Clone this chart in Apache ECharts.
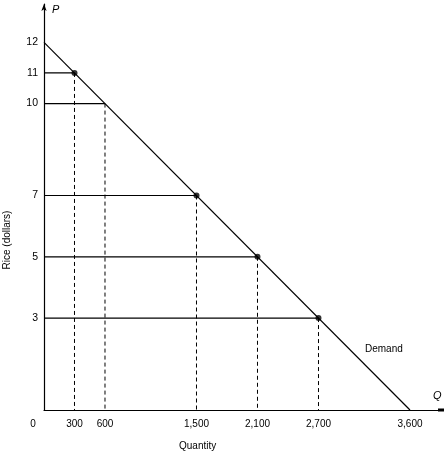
<!DOCTYPE html>
<html>
<head>
<meta charset="utf-8">
<script src="https://cdn.jsdelivr.net/npm/echarts@6/dist/echarts.min.js"></script>
<style>
  html, body { margin: 0; padding: 0; background: #fff; }
  #chart { width: 446px; height: 455px; }
</style>
</head>
<body>
<div id="chart"></div>
<script>
// demand curve end points
var demandQ = [0, 3600];
var demandP = [12, 0];

// price levels with their quantities on the curve
var prices = [11, 10, 7, 5, 3];
var quantities = [300, 600, 1500, 2100, 2700];

// marked points
var pointQ = [300, 1500, 2100, 2700];
var pointP = [11, 7, 5, 3];

// tick labels
var xTicks = [0, 300, 600, 1500, 2100, 2700, 3600];
var yTicks = [3, 5, 7, 10, 11, 12];

var chart = echarts.init(document.getElementById('chart'));
var font = 'Liberation Sans, Arial, sans-serif';

function fmtNum(v) {
    return String(v).replace(/\B(?=(\d{3})+(?!\d))/g, ',');
}

var series = [];

// horizontal solid lines from the price axis to the curve
prices.forEach(function (p, i) {
    series.push({
        type: 'line',
        data: [[0, p], [quantities[i], p]],
        symbol: 'none',
        silent: true,
        lineStyle: { color: '#000', width: 1.2 }
    });
});

// vertical dashed lines down to the quantity axis
prices.forEach(function (p, i) {
    series.push({
        type: 'line',
        data: [[quantities[i], p], [quantities[i], 0]],
        symbol: 'none',
        silent: true,
        lineStyle: { color: '#000', width: 1, type: [4, 3] }
    });
});

// demand line
series.push({
    type: 'line',
    data: demandQ.map(function (q, i) { return [q, demandP[i]]; }),
    symbol: 'none',
    silent: true,
    lineStyle: { color: '#000', width: 1.2 }
});

// points on the curve
series.push({
    type: 'scatter',
    data: pointQ.map(function (q, i) { return [q, pointP[i]]; }),
    symbol: 'circle',
    symbolSize: 6,
    itemStyle: { color: '#000' }
});

chart.setOption({
    animation: false,
    grid: { left: 44, right: 5, top: 4, bottom: 45, containLabel: false },
    xAxis: {
        type: 'value',
        min: 0,
        max: 3905,
        interval: 300,
        splitLine: { show: false },
        axisTick: { show: false },
        axisLine: {
            show: true,
            lineStyle: { color: '#000', width: 1.2 },
            symbol: ['none', 'rect'],
            symbolSize: [3, 6]
        },
        axisLabel: {
            color: '#000',
            fontFamily: font,
            fontSize: 10,
            margin: 9,
            showMaxLabel: false,
            formatter: function (v) {
                if (xTicks.indexOf(v) < 0) return '';
                if (v === 0) return '{z|0}';
                return fmtNum(v);
            },
            rich: { z: { fontFamily: font, fontSize: 10, color: '#000', padding: [0, 22, 0, 0] } }
        }
    },
    yAxis: {
        type: 'value',
        min: 0,
        max: 13.25,
        interval: 1,
        splitLine: { show: false },
        axisTick: { show: false },
        axisLine: {
            show: true,
            lineStyle: { color: '#000', width: 1.2 },
            symbol: ['none', 'arrow'],
            symbolSize: [4, 7]
        },
        axisLabel: {
            color: '#000',
            fontFamily: font,
            fontSize: 10.5,
            margin: 6,
            showMaxLabel: false,
            formatter: function (v) {
                return yTicks.indexOf(v) < 0 ? '' : String(v);
            }
        }
    },
    graphic: [
        { type: 'text', left: 52, top: 4, style: { text: 'P', font: 'italic 11px ' + font, fill: '#000' } },
        { type: 'text', left: 433, top: 390, style: { text: 'Q', font: 'italic 11px ' + font, fill: '#000' } },
        { type: 'text', left: 365, top: 344, style: { text: 'Demand', font: '10px ' + font, fill: '#000' } },
        { type: 'text', left: 179, top: 441, style: { text: 'Quantity', font: '10px ' + font, fill: '#000' } },
        {
            type: 'text', x: 7, y: 240, rotation: Math.PI / 2,
            style: { text: 'Rice (dollars)', font: '10px ' + font, fill: '#000', align: 'center', verticalAlign: 'middle' }
        }
    ],
    series: series
});
</script>
</body>
</html>
